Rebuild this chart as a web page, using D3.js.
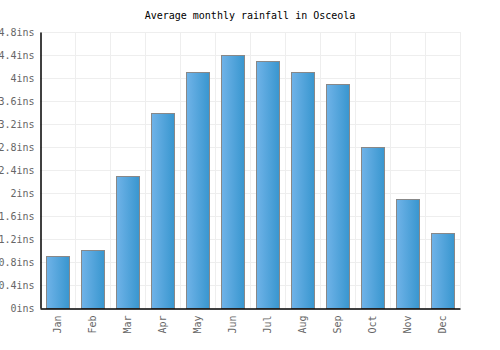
<!DOCTYPE html>
<html><head><meta charset="utf-8">
<script src="https://cdn.jsdelivr.net/npm/d3@7"></script>
<style>body{margin:0;background:#fff}svg text{font-family:"DejaVu Sans Mono",monospace}</style>
</head><body><svg id="c" width="500" height="350"></svg>
<script>
const months = ["Jan","Feb","Mar","Apr","May","Jun","Jul","Aug","Sep","Oct","Nov","Dec"];
const rainfall = [0.9,1.0,2.3,3.4,4.1,4.4,4.3,4.1,3.9,2.8,1.9,1.3];
const yTicks = [0,0.4,0.8,1.2,1.6,2,2.4,2.8,3.2,3.6,4,4.4,4.8];
const title = "Average monthly rainfall in Osceola";

const svg = d3.select("#c");
const m = {l:40, r:40, t:32, b:42};
const W = 500, H = 350;
const x = d3.scaleBand().domain(months).range([m.l, W-m.r]).paddingInner(0.34).paddingOuter(0.17);
const xb = d3.scaleBand().domain(months).range([m.l, W-m.r]);
const y = d3.scaleLinear().domain([0,4.8]).range([H-m.b, m.t]);

const defs = svg.append("defs");
const g = defs.append("linearGradient").attr("id","bg").attr("x1","0").attr("x2","1").attr("y1","0").attr("y2","0");
g.append("stop").attr("offset","0%").attr("stop-color","#70b3e8");
g.append("stop").attr("offset","100%").attr("stop-color","#3896cf");

// grid
svg.append("g").selectAll("line").data(yTicks.slice(1)).join("line")
  .attr("x1",m.l).attr("x2",W-m.r).attr("y1",d=>Math.round(y(d))+0.5).attr("y2",d=>Math.round(y(d))+0.5)
  .attr("stroke","#eeeeee");
svg.append("g").selectAll("line").data(months).join("line")
  .attr("x1",d=>Math.round(xb(d)+xb.bandwidth())+0.5).attr("x2",d=>Math.round(xb(d)+xb.bandwidth())+0.5)
  .attr("y1",m.t).attr("y2",H-m.b).attr("stroke","#eeeeee");

// bars
svg.append("g").selectAll("rect").data(rainfall).join("rect")
  .attr("x",(d,i)=>Math.round(x(months[i]))+0.5)
  .attr("width",Math.round(x.bandwidth()))
  .attr("y",d=>Math.round(y(d))+0.5)
  .attr("height",d=>Math.round(y(0))-Math.round(y(d)))
  .attr("fill","url(#bg)").attr("stroke","#888").attr("stroke-width",1);

// axes
const ya = svg.append("g").attr("transform",`translate(${m.l+0.5},0)`)
  .call(d3.axisLeft(y).tickValues(yTicks).tickSize(0).tickPadding(6).tickFormat(d=>d3.format("~g")(d)+"ins"));
ya.select(".domain").attr("stroke","#000").attr("stroke-width",1.5);
ya.selectAll("text").attr("fill","#666").attr("font-size",10);

const xa = svg.append("g").attr("transform",`translate(0,${H-m.b+0.5})`)
  .call(d3.axisBottom(xb).tickSize(0).tickPadding(5));
xa.select(".domain").attr("stroke","#000").attr("stroke-width",1.5);
xa.selectAll("text").attr("fill","#666").attr("font-size",10)
  .attr("transform","rotate(-90)").attr("text-anchor","end").attr("dx","-7").attr("dy","0.32em").attr("y",0).attr("x",0);
svg.selectAll("text").attr("font-family","DejaVu Sans Mono, monospace");

svg.append("text").attr("x",W/2).attr("y",19).attr("text-anchor","middle")
  .attr("font-size",10).attr("fill","#000").attr("font-family","DejaVu Sans Mono, monospace").text(title);
</script></body></html>
